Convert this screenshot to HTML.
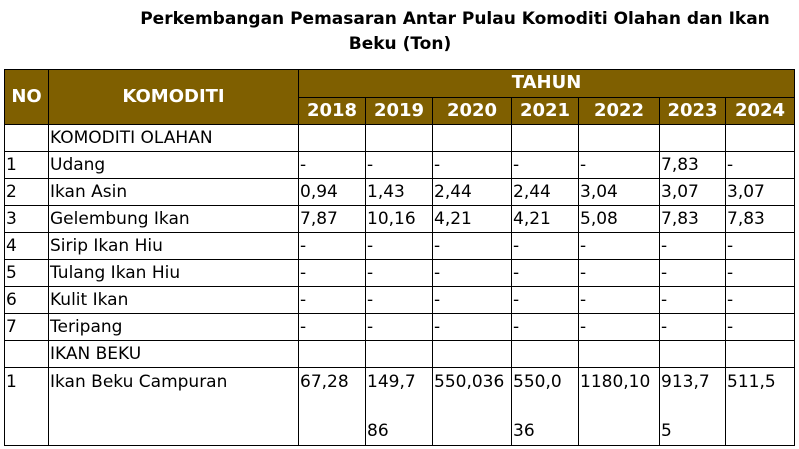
<!DOCTYPE html>
<html><head><meta charset="utf-8"><style>
body{margin:0;width:799px;height:449px;background:#fff;position:relative;overflow:hidden;font-family:"DejaVu Sans","Liberation Sans",sans-serif;}
.title{position:absolute;left:0;width:910px;text-align:center;font-weight:bold;font-size:17px;color:#000;}
table{position:absolute;left:4px;top:69px;border-collapse:collapse;table-layout:fixed;font-size:17px;}
td{border:1px solid #000;padding:0 0 0 1px;white-space:nowrap;overflow:visible;vertical-align:middle;height:26px;line-height:26px;}
.h{background:#7f5f00;color:#fff;font-weight:bold;font-size:18px;text-align:center;padding:0;}
.last td{height:76px;vertical-align:top;line-height:28px;}
.last span{display:block;margin-top:21px;}
</style></head><body>
<div class="title" style="top:9px">Perkembangan Pemasaran Antar Pulau Komoditi Olahan dan Ikan</div>
<div class="title" style="top:34px;width:800px">Beku (Ton)</div>
<table>
<colgroup><col style="width:44px"><col style="width:250px"><col style="width:67px"><col style="width:67px"><col style="width:79px"><col style="width:67px"><col style="width:81px"><col style="width:66px"><col style="width:69px"></colgroup>
<tr><td class="h" rowspan="2" style="height:54px">NO</td><td class="h" rowspan="2">KOMODITI</td><td class="h" colspan="7">TAHUN</td></tr>
<tr><td class="h">2018</td><td class="h">2019</td><td class="h">2020</td><td class="h">2021</td><td class="h">2022</td><td class="h">2023</td><td class="h">2024</td></tr>
<tr><td></td><td>KOMODITI OLAHAN</td><td></td><td></td><td></td><td></td><td></td><td></td><td></td></tr>
<tr><td>1</td><td>Udang</td><td>-</td><td>-</td><td>-</td><td>-</td><td>-</td><td>7,83</td><td>-</td></tr>
<tr><td>2</td><td>Ikan Asin</td><td>0,94</td><td>1,43</td><td>2,44</td><td>2,44</td><td>3,04</td><td>3,07</td><td>3,07</td></tr>
<tr><td>3</td><td>Gelembung Ikan</td><td>7,87</td><td>10,16</td><td>4,21</td><td>4,21</td><td>5,08</td><td>7,83</td><td>7,83</td></tr>
<tr><td>4</td><td>Sirip Ikan Hiu</td><td>-</td><td>-</td><td>-</td><td>-</td><td>-</td><td>-</td><td>-</td></tr>
<tr><td>5</td><td>Tulang Ikan Hiu</td><td>-</td><td>-</td><td>-</td><td>-</td><td>-</td><td>-</td><td>-</td></tr>
<tr><td>6</td><td>Kulit Ikan</td><td>-</td><td>-</td><td>-</td><td>-</td><td>-</td><td>-</td><td>-</td></tr>
<tr><td>7</td><td>Teripang</td><td>-</td><td>-</td><td>-</td><td>-</td><td>-</td><td>-</td><td>-</td></tr>
<tr><td></td><td>IKAN BEKU</td><td></td><td></td><td></td><td></td><td></td><td></td><td></td></tr>
<tr class="last"><td>1</td><td>Ikan Beku Campuran</td><td>67,28</td><td>149,7<span>86</span></td><td>550,036</td><td>550,0<span>36</span></td><td>1180,10</td><td>913,7<span>5</span></td><td>511,5</td></tr>
</table>
</body></html>
